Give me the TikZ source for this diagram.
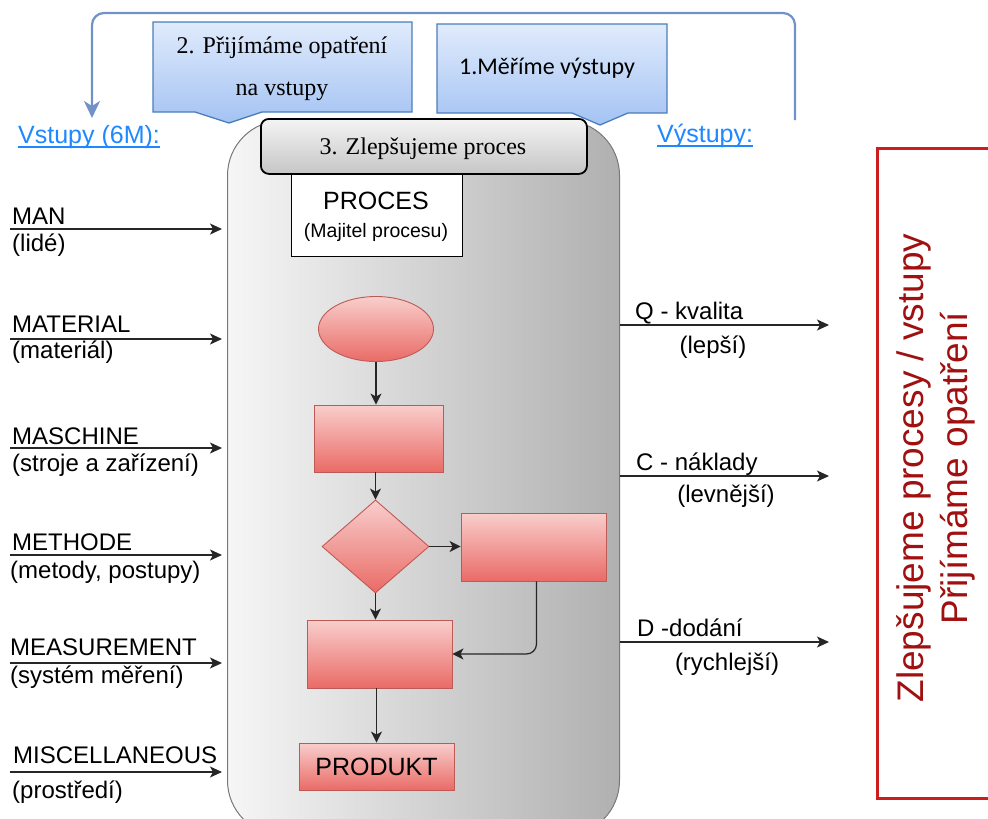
\documentclass[tikz,border=0pt]{standalone}
\usepackage{fontspec}
\setmainfont{Liberation Sans}
\newfontfamily\serifface{Liberation Serif}
\newfontfamily\calloutface{Carlito}
\usetikzlibrary{arrows.meta,shapes.geometric}

\definecolor{linkblue}{RGB}{30,136,255}
\definecolor{loopblue}{RGB}{112,146,200}
\definecolor{calloutedge}{RGB}{74,126,187}
\definecolor{callouttop}{RGB}{224,235,252}
\definecolor{calloutbot}{RGB}{164,195,243}
\definecolor{flowtop}{RGB}{248,206,204}
\definecolor{flowbot}{RGB}{234,107,102}
\definecolor{flowedge}{RGB}{190,90,86}
\definecolor{procleft}{RGB}{246,246,246}
\definecolor{procright}{RGB}{176,176,176}
\definecolor{procedge}{RGB}{120,120,120}
\definecolor{bartop}{RGB}{244,244,244}
\definecolor{barbot}{RGB}{198,198,198}
\definecolor{framered}{RGB}{204,30,30}
\definecolor{claimred}{RGB}{160,16,16}

\begin{document}
\begin{tikzpicture}[x=1pt,y=-1pt,
  txt/.style={inner sep=0pt, font=\fontsize{24}{29}\selectfont},
  link/.style={inner sep=0pt, text=linkblue, font=\fontsize{25}{30}\selectfont},
  linkline/.style={draw=linkblue, line width=1.3pt},
  callout/.style={top color=callouttop, bottom color=calloutbot, draw=calloutedge, line width=1.3pt},
  flowbox/.style={draw=flowedge, line width=0.9pt, top color=flowtop, bottom color=flowbot, inner sep=0pt},
  flowarrow/.style={-{Stealth[length=11pt,width=11pt,inset=3pt]}, line width=1.2pt, black!85},
  inarrow/.style={-{Stealth[length=12pt,width=11pt,inset=3pt]}, line width=1.2pt, black!85},
  looparrow/.style={-{Stealth[length=17pt,width=16pt,inset=5pt]}, line width=2.2pt, draw=loopblue, rounded corners=12pt}
]
\useasboundingbox (0,0) rectangle (988,819);
\clip (0,0) rectangle (988,819);
\fill[white] (0,0) rectangle (988,819);

% feedback loop from the outputs back to the inputs
\coordinate (fbFrom) at (795,120);
\coordinate (fbTo) at (92,118);
\coordinate (fbTop) at (0,13);
\draw[looparrow] (fbFrom) -- (fbFrom |- fbTop) -- (fbTo |- fbTop) -- (fbTo);

% process body
\node[draw=procedge, line width=1pt, left color=procleft, right color=procright,
      rounded corners=55pt, minimum width=392pt, minimum height=715pt,
      inner sep=0pt, anchor=north west] (proc) at (227,120) {};

% callouts
\path[callout] (153,22) -- (412,22) -- (412,112) -- (262,112) -- (229,123)
  -- (195,112) -- (153,112) -- cycle;
\node[inner sep=0pt, align=center, font=\serifface\fontsize{24}{42}\selectfont]
  (act) at (282,69) {2. Přijímáme opatření\\na vstupy};

\path[callout] (437,24) -- (667,24) -- (667,113) -- (628,113) -- (600,125)
  -- (572,113) -- (437,113) -- cycle;
\node[inner sep=0pt, anchor=base, font=\calloutface\fontsize{24}{29}\selectfont]
  (measure) at (547,74) {1.Měříme výstupy};

% improvement bar on top of the process
\node[draw=black, line width=1.8pt, top color=bartop, bottom color=barbot,
      rounded corners=8pt, minimum width=326pt, minimum height=55pt, inner sep=0pt,
      anchor=north west] (improve) at (260,118) {};
\node[inner sep=0pt, anchor=base, font=\serifface\fontsize{24}{29}\selectfont]
  (improvetext) at (423,154) {3. Zlepšujeme proces};

% process owner box
\node[draw=black, line width=1pt, fill=white, minimum width=171pt, minimum height=82pt,
      inner sep=0pt, anchor=north west] (owner) at (291,174) {};
\node[inner sep=0pt, anchor=base, font=\fontsize{25}{30}\selectfont] (ownertitle) at (376,209) {PROCES};
\node[inner sep=0pt, anchor=base, font=\fontsize{19.5}{24}\selectfont] (ownername) at (376,237) {(Majitel procesu)};

% flowchart
\node[flowbox, ellipse, minimum width=115pt, minimum height=65pt] (start) at (376,329) {};
\node[flowbox, minimum width=129pt, minimum height=67pt] (step1) at (378.5,438.5) {};
\node[flowbox, diamond, minimum width=107pt, minimum height=93pt] (decide) at (375.5,546.5) {};
\node[flowbox, minimum width=145pt, minimum height=68pt] (side) at (533.5,547) {};
\node[flowbox, minimum width=145pt, minimum height=68pt] (step2) at (379.5,654) {};
\node[flowbox, minimum width=155pt, minimum height=47pt, font=\fontsize{25}{30}\selectfont] (product) at (376.5,766.5) {PRODUKT};

\draw[flowarrow] (start.south) -- (start.south |- step1.north);
\draw[flowarrow] (step1.south -| decide.north) -- (decide.north);
\draw[flowarrow] (decide.south) -- (decide.south |- step2.north);
\draw[flowarrow] (decide.east) -- (decide.east -| side.west);
\draw[flowarrow, rounded corners=10pt] ([xshift=3pt]side.south) |- (step2.east);
\draw[flowarrow] (product.north |- step2.south) -- (product.north);

% inputs
\node[link, anchor=base west] (inputs) at (18,143) {Vstupy (6M):};
\draw[linkline] ([yshift=-4pt]inputs.base west) -- ([yshift=-4pt]inputs.base east);

\coordinate (inMan) at (10,229);
\coordinate (inMaterial) at (10,339);
\coordinate (inMachine) at (10,448);
\coordinate (inMethod) at (10,555);
\coordinate (inMeasure) at (10,663);
\coordinate (inMisc) at (10,772);
\foreach \c in {inMan,inMaterial,inMachine,inMethod,inMeasure,inMisc}
  \draw[inarrow, shorten >=5pt] (\c) -- (\c -| proc.west);

\node[txt, anchor=base west] (manA) at (12,224) {MAN};
\node[txt, anchor=base west] (manB) at (12,251) {(lidé)};
\node[txt, anchor=base west] (matA) at (12,332) {MATERIAL};
\node[txt, anchor=base west] (matB) at (12,358) {(materiál)};
\node[txt, anchor=base west] (macA) at (12,444) {MASCHINE};
\node[txt, anchor=base west] (macB) at (12,471) {(stroje a zařízení)};
\node[txt, anchor=base west] (metA) at (12,550) {METHODE};
\node[txt, anchor=base west] (metB) at (10,578) {(metody, postupy)};
\node[txt, anchor=base west] (meaA) at (10,655) {MEASUREMENT};
\node[txt, anchor=base west] (meaB) at (10,683) {(systém měření)};
\node[txt, anchor=base west] (misA) at (13,763) {MISCELLANEOUS};
\node[txt, anchor=base west] (misB) at (12,798) {(prostředí)};

% outputs
\node[link, anchor=base west] (outputs) at (657,142) {Výstupy:};
\draw[linkline] ([yshift=-4pt]outputs.base west) -- ([yshift=-4pt]outputs.base east);

\coordinate (outQ) at (829,325);
\coordinate (outC) at (829,476);
\coordinate (outD) at (829,642);
\foreach \c in {outQ,outC,outD}
  \draw[inarrow] (\c -| proc.east) -- (\c);

\node[txt, anchor=base west] (qA) at (635,319) {Q - kvalita};
\node[txt, anchor=base] (qB) at (713,353) {(lepší)};
\node[txt, anchor=base west] (cA) at (636,470) {C - náklady};
\node[txt, anchor=base] (cB) at (726,502) {(levnější)};
\node[txt, anchor=base west] (dA) at (637,636) {D -dodání};
\node[txt, anchor=base] (dB) at (727,670) {(rychlejší)};

% conclusion frame
\node[draw=framered, line width=2.5pt, minimum width=140pt, minimum height=650pt,
      inner sep=0pt, anchor=north west] (lesson) at (876,147) {};
\node[inner sep=0pt, rotate=90, align=center, text=claimred,
      font=\fontsize{37}{44}\selectfont] (lessontext) at (936,468)
  {Zlepšujeme procesy / vstupy\\Přijímáme opatření};
\end{tikzpicture}
\end{document}
